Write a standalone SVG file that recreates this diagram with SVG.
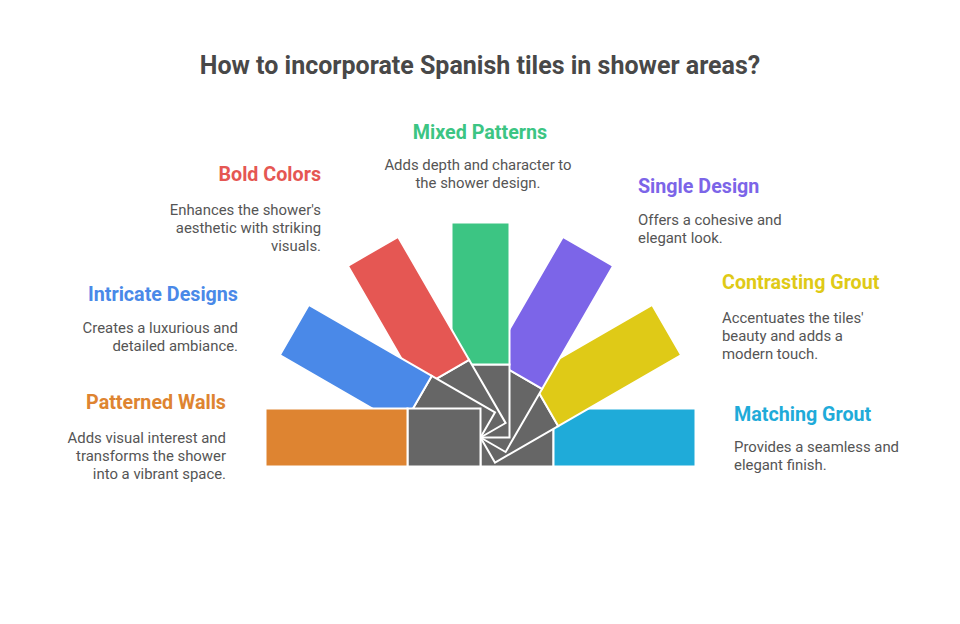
<svg xmlns="http://www.w3.org/2000/svg" width="960" height="624" viewBox="0 0 960 624">
<style>
.t{font-family:Roboto,"Liberation Sans",sans-serif;font-weight:bold;font-size:25px;fill:#484848}
.h{font-family:Roboto,"Liberation Sans",sans-serif;font-weight:bold;font-size:19.7px}
.d{font-family:Roboto,"Liberation Sans",sans-serif;font-size:14.9px;fill:#555555}
.g{fill:#666666;stroke:#ffffff;stroke-width:2}
.c{stroke:#ffffff;stroke-width:2}
.e{text-anchor:end}.m{text-anchor:middle}
</style>
<defs>
<rect id="gr" x="0" y="-29" width="73" height="58" class="g"/>
</defs>
<rect width="960" height="624" fill="#ffffff"/>
<text x="480" y="74" class="t m">How to incorporate Spanish tiles in shower areas?</text>
<g id="fan">
<g id="matching-grout-blade" transform="translate(480.5,437.5) rotate(0)"><use href="#gr"/><rect x="73" y="-29" width="142" height="58" class="c" fill="#1FABD9"/></g>
<g id="contrasting-grout-blade" transform="translate(480.5,437.5) rotate(-30)"><use href="#gr"/><rect x="73" y="-29" width="142" height="58" class="c" fill="#DFCA17"/></g>
<g id="single-design-blade" transform="translate(480.5,437.5) rotate(-60)"><use href="#gr"/><rect x="73" y="-29" width="142" height="58" class="c" fill="#7C65E8"/></g>
<g id="mixed-patterns-blade" transform="translate(480.5,437.5) rotate(-90)"><use href="#gr"/><rect x="73" y="-29" width="142" height="58" class="c" fill="#3CC583"/></g>
<g id="bold-colors-blade" transform="translate(480.5,437.5) rotate(-120)"><use href="#gr"/><rect x="73" y="-29" width="142" height="58" class="c" fill="#E55753"/></g>
<g id="intricate-designs-blade" transform="translate(480.5,437.5) rotate(-150)"><use href="#gr"/><rect x="73" y="-29" width="142" height="58" class="c" fill="#4A89E8"/></g>
<g id="patterned-walls-blade" transform="translate(480.5,437.5) rotate(180)"><use href="#gr"/><rect x="73" y="-29" width="142" height="58" class="c" fill="#DE8431"/></g>
</g>
<g id="mixed-patterns">
<text x="480" y="139" class="h m" fill="#3CC583">Mixed Patterns</text>
<text x="478" y="170" class="d m">Adds depth and character to</text>
<text x="478" y="188" class="d m">the shower design.</text>
</g>
<g id="bold-colors">
<text x="321" y="181" class="h e" fill="#E55753">Bold Colors</text>
<text x="321" y="215" class="d e">Enhances the shower's</text>
<text x="321" y="233" class="d e">aesthetic with striking</text>
<text x="321" y="251" class="d e">visuals.</text>
</g>
<g id="single-design">
<text x="638" y="193" class="h" fill="#7C65E8">Single Design</text>
<text x="638" y="225" class="d">Offers a cohesive and</text>
<text x="638" y="243" class="d">elegant look.</text>
</g>
<g id="intricate-designs">
<text x="238" y="301" class="h e" fill="#4A89E8">Intricate Designs</text>
<text x="238" y="333" class="d e">Creates a luxurious and</text>
<text x="238" y="351" class="d e">detailed ambiance.</text>
</g>
<g id="contrasting-grout">
<text x="722" y="289" class="h" fill="#DFCA17">Contrasting Grout</text>
<text x="722" y="323" class="d">Accentuates the tiles'</text>
<text x="722" y="341" class="d">beauty and adds a</text>
<text x="722" y="359" class="d">modern touch.</text>
</g>
<g id="patterned-walls">
<text x="226" y="409" class="h e" fill="#DE8431">Patterned Walls</text>
<text x="226" y="443" class="d e">Adds visual interest and</text>
<text x="226" y="461" class="d e">transforms the shower</text>
<text x="226" y="479" class="d e">into a vibrant space.</text>
</g>
<g id="matching-grout">
<text x="734" y="421" class="h" fill="#1FABD9">Matching Grout</text>
<text x="734" y="452" class="d">Provides a seamless and</text>
<text x="734" y="470" class="d">elegant finish.</text>
</g>
</svg>
